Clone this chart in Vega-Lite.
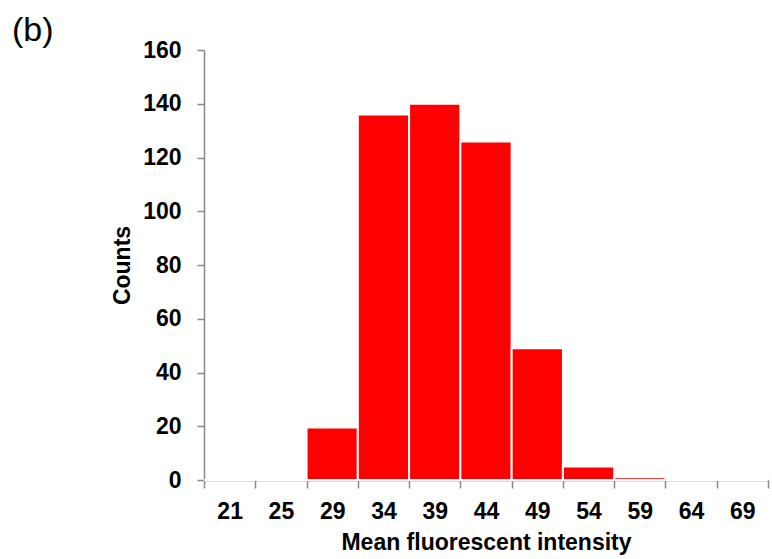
{
  "$schema": "https://vega.github.io/schema/vega-lite/v6.json",
  "autosize": {"type": "none"},
  "width": 564,
  "height": 430,
  "padding": {"left": 204, "top": 50, "right": 4, "bottom": 79},
  "background": "white",
  "title": {
    "text": "(b)",
    "anchor": "start",
    "frame": "group",
    "dx": -192,
    "dy": 42,
    "offset": 6,
    "baseline": "alphabetic",
    "font": "Liberation Sans",
    "fontSize": 34,
    "fontWeight": "normal",
    "color": "#000000"
  },
  "data": {
    "values": [
      {"bin": "21", "count": 0},
      {"bin": "25", "count": 0},
      {"bin": "29", "count": 19.5},
      {"bin": "34", "count": 136},
      {"bin": "39", "count": 140},
      {"bin": "44", "count": 126},
      {"bin": "49", "count": 49},
      {"bin": "54", "count": 5},
      {"bin": "59", "count": 1},
      {"bin": "64", "count": 0},
      {"bin": "69", "count": 0}
    ]
  },
  "mark": {"type": "bar", "color": "#ff0000", "stroke": "white", "strokeWidth": 2},
  "encoding": {
    "x": {
      "field": "bin",
      "type": "ordinal",
      "sort": null,
      "scale": {"paddingInner": 0, "paddingOuter": 0},
      "axis": {
        "title": "Mean fluorescent intensity",
        "labelAngle": 0,
        "bandPosition": 0,
        "tickBand": "extent",
        "tickSize": 8,
        "tickColor": "#888888",
        "domainColor": "#888888",
        "tickWidth": 1.5,
        "domainWidth": 1.5,
        "labelPadding": 12,
        "labelFont": "Liberation Sans",
        "labelFontSize": 23,
        "labelFontWeight": "bold",
        "labelColor": "#000000",
        "titleFont": "Liberation Sans",
        "titleFontSize": 23,
        "titleFontWeight": "bold",
        "titleColor": "#000000",
        "titlePadding": 8
      }
    },
    "y": {
      "field": "count",
      "type": "quantitative",
      "scale": {"domain": [0, 160], "nice": false},
      "axis": {
        "title": "Counts",
        "values": [0, 20, 40, 60, 80, 100, 120, 140, 160],
        "grid": false,
        "tickSize": 7,
        "tickColor": "#888888",
        "domainColor": "#888888",
        "tickWidth": 1.5,
        "domainWidth": 1.5,
        "labelPadding": 16,
        "labelFont": "Liberation Sans",
        "labelFontSize": 23,
        "labelFontWeight": "bold",
        "labelColor": "#000000",
        "titleFont": "Liberation Sans",
        "titleFontSize": 23,
        "titleFontWeight": "bold",
        "titleColor": "#000000",
        "titlePadding": 8
      }
    }
  },
  "config": {"view": {"stroke": null}}
}
